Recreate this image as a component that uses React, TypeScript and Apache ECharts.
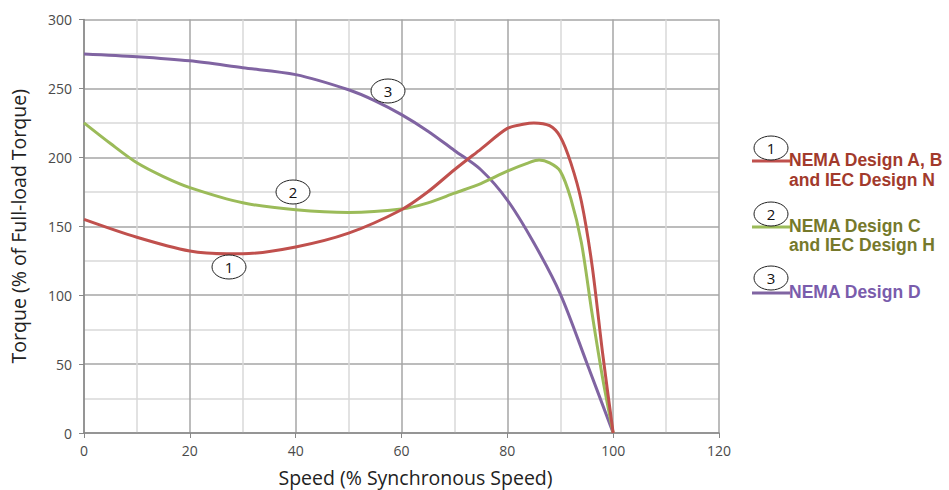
import React, { useEffect, useRef } from "react";
import * as echarts from "echarts";

const speedA = [0, 10, 20, 27, 30, 40, 50, 60, 65, 70, 75, 80, 83, 85, 88, 90, 92, 94, 96, 98, 100];
const torqueA = [155, 142, 132, 130, 130, 135, 145, 162, 175, 191, 206, 221, 224, 225, 223, 215, 196, 168, 122, 58, 0];

const speedC = [0, 5, 10, 15, 20, 30, 40, 50, 60, 65, 70, 75, 80, 84, 86, 88, 90, 92, 94, 96, 98, 100];
const torqueC = [225, 210, 196, 186, 178, 167, 162, 160, 162.5, 167, 174, 181, 190, 196, 198, 196, 190, 170, 138, 87, 40, 0];

const speedD = [0, 10, 20, 30, 40, 50, 55, 60, 65, 70, 75, 80, 85, 90, 95, 100];
const torqueD = [275, 273, 270, 265, 260, 249, 241, 231, 219, 205, 191, 169, 138, 101, 51, 0];

const xTicks = [0, 120, 20];
const yTicks = [0, 300, 50];

const seriesNames = ["NEMA Design A, B and IEC Design N", "NEMA Design C and IEC Design H", "NEMA Design D"];
const lineColors = ["#c0504d", "#9bbb59", "#8064a2"];
const textColors = ["#a23a2c", "#76792b", "#7a5cac"];

const pairs = (xs: number[], ys: number[]) => xs.map((x, i) => [x, ys[i]]);

const FONT = "'Open Sans', 'Noto Sans', sans-serif";
const LFONT = "'Liberation Sans', Arial, sans-serif";

function ellipseLabel(cx: number, cy: number, num: string) {
  return [
    {
      type: "ellipse",
      shape: { cx, cy, rx: 17, ry: 12 },
      style: { fill: "#ffffff", stroke: "#222", lineWidth: 1 },
      z: 100,
    },
    {
      type: "text",
      x: cx,
      y: cy,
      style: {
        text: num,
        font: `15px ${FONT}`,
        fill: "#111",
        textAlign: "center",
        textVerticalAlign: "middle",
      },
      z: 101,
    },
  ];
}

function legendItem(y: number, idx: number, lines: string[], gap: number) {
  const items: any[] = [
    {
      type: "line",
      shape: { x1: 752, y1: y, x2: 790, y2: y },
      style: { stroke: lineColors[idx], lineWidth: 3 },
      z: 90,
    },
  ];
  lines.forEach((t, k) => {
    items.push({
      type: "text",
      x: 789,
      y: y - 1 + k * gap,
      style: {
        text: t,
        font: `bold 17.5px ${LFONT}`,
        fill: textColors[idx],
        textAlign: "left",
        textVerticalAlign: "middle",
      },
      z: 95,
    });
  });
  return items;
}

export default function App() {
  const ref = useRef<HTMLDivElement>(null);
  useEffect(() => {
    document.body.style.margin = "0";
    document.body.style.overflow = "hidden";
    if (!ref.current) return;
    const chart = echarts.init(ref.current, undefined, { renderer: "svg" });
    const data = [pairs(speedA, torqueA), pairs(speedC, torqueC), pairs(speedD, torqueD)];
    chart.setOption({
      animation: false,
      backgroundColor: "#ffffff",
      grid: { left: 84, width: 635, top: 19.5, height: 413.5, outerBoundsMode: "none", containLabel: false },
      xAxis: {
        type: "value",
        min: xTicks[0],
        max: xTicks[1],
        interval: xTicks[2],
        name: "Speed (% Synchronous Speed)",
        nameLocation: "middle",
        nameGap: 34,
        nameTextStyle: {
          fontFamily: FONT,
          fontSize: 19.5,
          lineHeight: 20,
          color: "#222",
          padding: [0, 0, 0, 28],
        },
        axisLine: { show: true, lineStyle: { color: "#888", width: 1.5 } },
        axisTick: { show: true, length: 5, lineStyle: { color: "#888" } },
        axisLabel: { fontFamily: FONT, fontSize: 14, color: "#4a4a4a", margin: 10 },
        splitLine: { show: true, lineStyle: { color: "#a6a6a6", width: 1.5 } },
        minorTick: { show: false, splitNumber: 2 },
        minorSplitLine: { show: true, lineStyle: { color: "#d9d9d9", width: 1.5 } },
      },
      yAxis: {
        type: "value",
        min: yTicks[0],
        max: yTicks[1],
        interval: yTicks[2],
        name: "Torque (% of Full-load Torque)",
        nameLocation: "middle",
        nameGap: 56,
        nameTextStyle: { fontFamily: FONT, fontSize: 19.5, lineHeight: 20, color: "#222" },
        axisLine: { show: true, lineStyle: { color: "#888", width: 1.5 } },
        axisTick: { show: true, length: 5, lineStyle: { color: "#888" } },
        axisLabel: { fontFamily: FONT, fontSize: 14, color: "#4a4a4a", margin: 12 },
        splitLine: { show: true, lineStyle: { color: "#a6a6a6", width: 1.5 } },
        minorTick: { show: false, splitNumber: 2 },
        minorSplitLine: { show: true, lineStyle: { color: "#d9d9d9", width: 1.5 } },
      },
      series: data.map((d, i) => ({
        type: "line",
        name: seriesNames[i],
        data: d,
        smooth: 0.3,
        showSymbol: false,
        symbol: "none",
        lineStyle: { color: lineColors[i], width: 3 },
        itemStyle: { color: lineColors[i] },
        z: 3 - i,
      })),
      graphic: [
        ...ellipseLabel(229, 267, "1"),
        ...ellipseLabel(293, 192, "2"),
        ...ellipseLabel(388, 91, "3"),
        ...legendItem(161, 0, ["NEMA Design A, B", "and IEC Design N"], 20),
        ...legendItem(227, 1, ["NEMA Design C", "and IEC Design H"], 19),
        ...legendItem(293, 2, ["NEMA Design D"], 20),
        ...ellipseLabel(771, 148, "1"),
        ...ellipseLabel(771, 214, "2"),
        ...ellipseLabel(771, 278, "3"),
      ],
    });
    return () => chart.dispose();
  }, []);
  return <div ref={ref} style={{ width: 949, height: 490, position: "fixed", left: 0, top: 0 }} />;
}
